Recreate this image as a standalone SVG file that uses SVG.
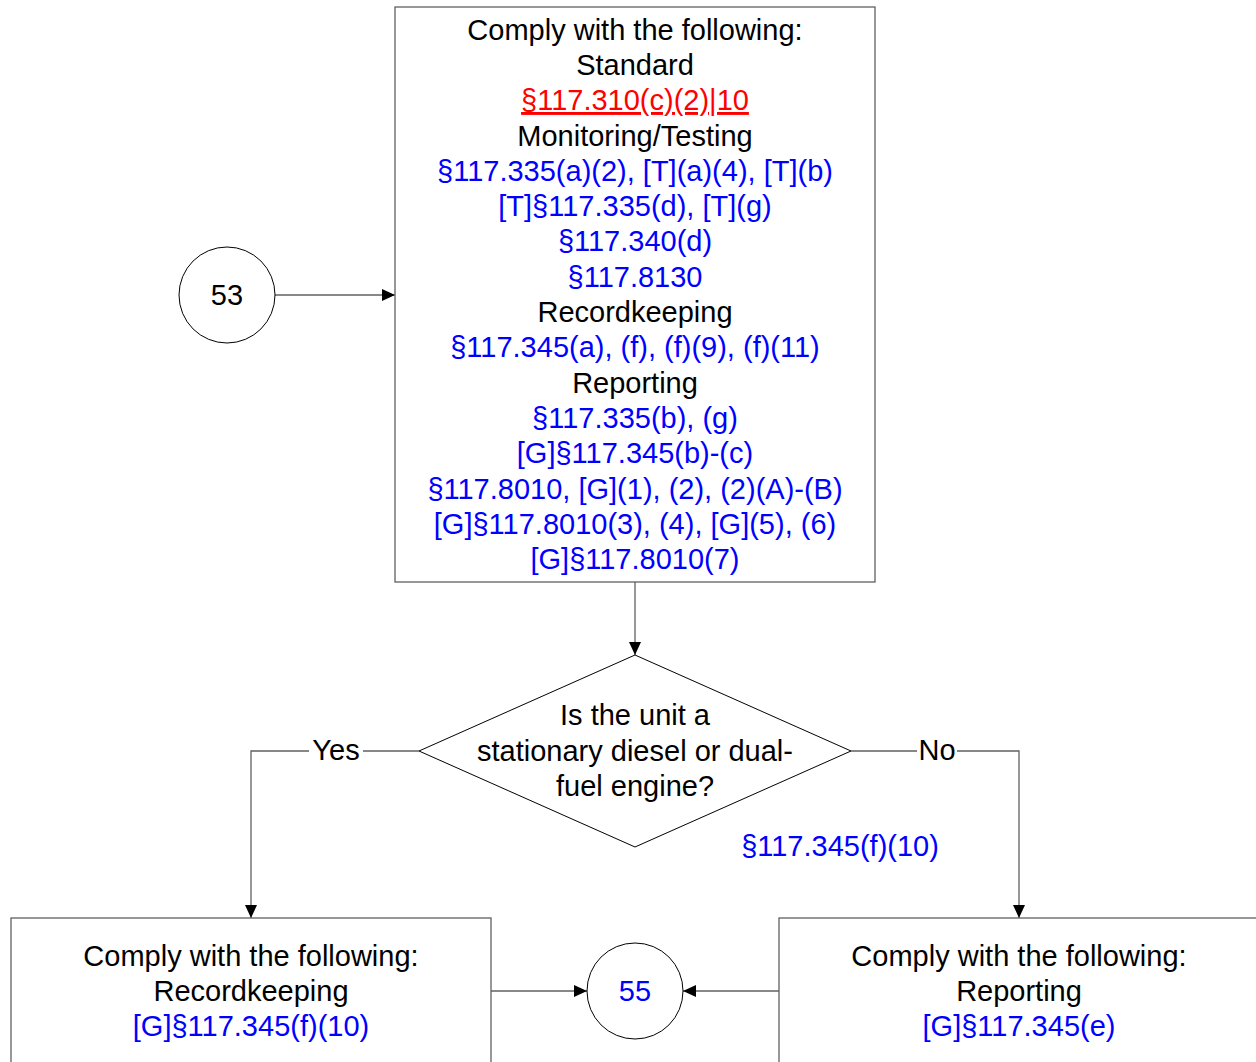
<svg xmlns="http://www.w3.org/2000/svg" width="1256" height="1062" viewBox="0 0 1256 1062">
<style>
text{font-family:"Liberation Sans",Arial,sans-serif;font-size:29px;text-anchor:middle;fill:#000}
.b{fill:#0000FF}
.r{fill:#FF0000;text-decoration:underline}
.box{fill:#fff;stroke:#606060;stroke-width:1.3}
.shape{fill:#fff;stroke:#000;stroke-width:1}
.conn{fill:none;stroke:#606060;stroke-width:1.3}
</style>
<defs>
<marker id="ah" viewBox="0 0 13 12" refX="13" refY="6" markerWidth="13" markerHeight="12" markerUnits="userSpaceOnUse" orient="auto">
<path d="M0,0 L13,6 L0,12 Z" fill="#000"/>
</marker>
</defs>
<g id="connectors">
<line class="conn" x1="275" y1="295" x2="395" y2="295" marker-end="url(#ah)"/>
<line class="conn" x1="635" y1="582" x2="635" y2="655" marker-end="url(#ah)"/>
<polyline class="conn" points="419,751 251,751 251,918" marker-end="url(#ah)"/>
<polyline class="conn" points="851,751 1019,751 1019,918" marker-end="url(#ah)"/>
<line class="conn" x1="491" y1="991" x2="587" y2="991" marker-end="url(#ah)"/>
<line class="conn" x1="779" y1="991" x2="683" y2="991" marker-end="url(#ah)"/>
<rect x="309" y="735" width="54" height="30" fill="#fff"/>
<text x="336" y="760">Yes</text>
<rect x="917" y="735" width="40" height="30" fill="#fff"/>
<text x="937" y="760">No</text>
<text class="b" x="840" y="856">§117.345(f)(10)</text>
</g>
<g id="node53">
<circle class="shape" cx="227" cy="295" r="48"/>
<text x="227" y="305">53</text>
</g>
<g id="mainBox">
<rect class="box" x="395" y="7" width="480" height="575"/>
<text x="635" y="40">Comply with the following:</text>
<text x="635" y="75">Standard</text>
<text class="r" x="635" y="110">§117.310(c)(2)|10</text>
<text x="635" y="146">Monitoring/Testing</text>
<text class="b" x="635" y="181">§117.335(a)(2), [T](a)(4), [T](b)</text>
<text class="b" x="635" y="216">[T]§117.335(d), [T](g)</text>
<text class="b" x="635" y="251">§117.340(d)</text>
<text class="b" x="635" y="287">§117.8130</text>
<text x="635" y="322">Recordkeeping</text>
<text class="b" x="635" y="357">§117.345(a), (f), (f)(9), (f)(11)</text>
<text x="635" y="393">Reporting</text>
<text class="b" x="635" y="428">§117.335(b), (g)</text>
<text class="b" x="635" y="463">[G]§117.345(b)-(c)</text>
<text class="b" x="635" y="499">§117.8010, [G](1), (2), (2)(A)-(B)</text>
<text class="b" x="635" y="534">[G]§117.8010(3), (4), [G](5), (6)</text>
<text class="b" x="635" y="569">[G]§117.8010(7)</text>
</g>
<g id="decision">
<polygon class="shape" points="635,655 851,751 635,847 419,751"/>
<text x="635" y="725">Is the unit a</text>
<text x="635" y="761">stationary diesel or dual-</text>
<text x="635" y="796">fuel engine?</text>
</g>
<g id="leftBox">
<rect class="box" x="11" y="918" width="480" height="160"/>
<text x="251" y="966">Comply with the following:</text>
<text x="251" y="1001">Recordkeeping</text>
<text class="b" x="251" y="1036">[G]§117.345(f)(10)</text>
</g>
<g id="node55">
<circle class="shape" cx="635" cy="991" r="48"/>
<text class="b" x="635" y="1001">55</text>
</g>
<g id="rightBox">
<rect class="box" x="779" y="918" width="480" height="160"/>
<text x="1019" y="966">Comply with the following:</text>
<text x="1019" y="1001">Reporting</text>
<text class="b" x="1019" y="1036">[G]§117.345(e)</text>
</g>
</svg>
